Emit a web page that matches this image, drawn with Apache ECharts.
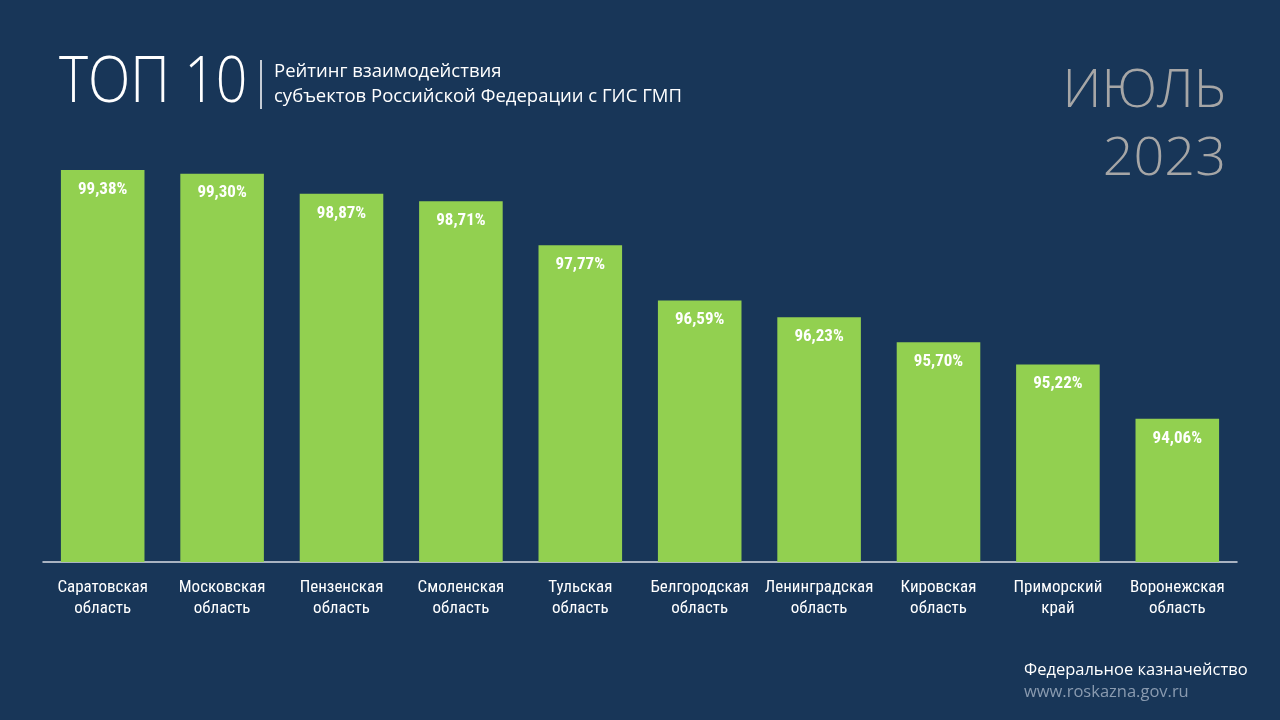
<!DOCTYPE html>
<html>
<head>
<meta charset="utf-8">
<script src="https://cdn.jsdelivr.net/npm/echarts@6/dist/echarts.min.js"></script>
<style>
  html, body { margin: 0; padding: 0; background: #183658; }
  #grafico { width: 1280px; height: 720px; }
</style>
</head>
<body>
<div id="grafico"></div>
<script>
	// dados do gráfico
	var regioes = ['Саратовская\nобласть', 'Московская\nобласть', 'Пензенская\nобласть', 'Смоленская\nобласть', 'Тульская\nобласть',
		'Белгородская\nобласть', 'Ленинградская\nобласть', 'Кировская\nобласть', 'Приморский\nкрай', 'Воронежская\nобласть'];
	var valores = [99.38, 99.30, 98.87, 98.71, 97.77, 96.59, 96.23, 95.70, 95.22, 94.06];

	var narrow = '"Liberation Sans Narrow", "Arial Narrow", "Roboto Condensed", sans-serif';
	var leve = '"Open Sans", "Segoe UI", sans-serif';

	var myChart = echarts.init(document.getElementById('grafico'));

	var option = {
		backgroundColor: '#183658',
		animation: false,
		grid: { left: 43, right: 43, top: 141, bottom: 158 },
		xAxis: {
			type: 'category',
			data: regioes,
			axisTick: { show: false },
			axisLine: { lineStyle: { color: '#d9dde3', width: 1.5 } },
			axisLabel: {
				color: '#ffffff',
				fontFamily: narrow,
				fontSize: 17,
				lineHeight: 21,
				margin: 15,
				interval: 0
			}
		},
		yAxis: {
			type: 'value',
			min: 91,
			max: 100,
			show: false,
			splitLine: { show: false }
		},
		series: [{
			type: 'bar',
			data: valores,
			barWidth: '70%',
			itemStyle: { color: '#92d050' },
			label: {
				show: true,
				position: 'insideTop',
				distance: 11,
				color: '#ffffff',
				fontFamily: narrow,
				fontWeight: 'bold',
				fontSize: 17,
				formatter: function (p) {
					return p.value.toFixed(2).replace('.', ',') + '%';
				}
			}
		}],
		graphic: [
			{ type: 'text', x: 59, y: 84, scaleX: 0.865, style: { text: 'ТОП 10', fill: '#ffffff', font: '300 64px ' + leve, verticalAlign: 'middle' } },
			{ type: 'line', shape: { x1: 261, y1: 60, x2: 261, y2: 109 }, style: { stroke: '#ffffff', lineWidth: 1.5 } },
			{ type: 'text', left: 274, top: 59, style: { text: 'Рейтинг взаимодействия\nсубъектов Российской Федерации с ГИС ГМП', fill: '#ffffff', font: '18.5px ' + leve, lineHeight: 25 } },
			{ type: 'text', x: 1226, y: 92, style: { text: 'ИЮЛЬ', fill: '#a6a6a6', font: '300 54px ' + leve, align: 'right', verticalAlign: 'middle' } },
			{ type: 'text', x: 1226, y: 160, style: { text: '2023', fill: '#a6a6a6', font: '300 54px ' + leve, align: 'right', verticalAlign: 'middle' } },
			{ type: 'text', left: 1024, top: 662, style: { text: 'Федеральное казначейство', fill: '#ffffff', font: '16.5px ' + leve } },
			{ type: 'text', left: 1024, top: 684, style: { text: 'www.roskazna.gov.ru', fill: '#8a9bb0', font: '16.5px ' + leve } }
		]
	};
	// aplico as alterações de layout no chart
	myChart.setOption(option);
</script>
</body>
</html>
